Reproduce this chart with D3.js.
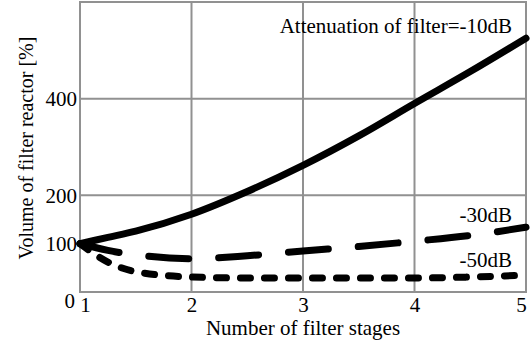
<!DOCTYPE html>
<html>
<head>
<meta charset="utf-8">
<script src="https://cdn.jsdelivr.net/npm/d3@7"></script>
<style>
  body { margin: 0; background: #fff; }
  svg { display: block; }
</style>
</head>
<body>
<div id="chart"></div>
<script>
// Data
const stages = [1, 1.25, 1.5, 2, 2.5, 3, 3.5, 4, 4.5, 5];
const att10 = [100, 113, 126, 161, 208, 262, 323, 390, 456, 525];
const att30 = [100, 86, 77, 69, 75, 85, 94, 105, 117, 134];
const att50 = [100, 62, 42, 31, 29, 29, 29, 29, 31, 35];
const xTicks = [1, 2, 3, 4, 5];
const yTicks = [0, 100, 200, 400];
const yGrid = [200, 400];

const margin = { top: 2, right: 6, bottom: 55, left: 80 },
      width = 532 - margin.left - margin.right,
      height = 347 - margin.top - margin.bottom;
const fontFam = "'Liberation Serif', 'Times New Roman', serif";

const svg = d3.select("#chart")
  .append("svg")
    .attr("width", 532)
    .attr("height", 347)
    .style("font-family", fontFam)
  .append("g")
    .attr("transform", "translate(" + margin.left + "," + margin.top + ")");

const x = d3.scaleLinear().domain([1, 5]).range([0, width]);
const y = d3.scaleLinear().domain([0, 600]).range([height, 0]);

// Grid
svg.append("g")
  .selectAll("line")
  .data(xTicks)
  .enter().append("line")
    .attr("x1", d => x(d)).attr("x2", d => x(d))
    .attr("y1", 0).attr("y2", height)
    .attr("stroke", "#919191").attr("stroke-width", 2);
svg.append("g")
  .selectAll("line")
  .data(yGrid)
  .enter().append("line")
    .attr("x1", 0).attr("x2", width)
    .attr("y1", d => y(d)).attr("y2", d => y(d))
    .attr("stroke", "#919191").attr("stroke-width", 2);
svg.append("rect")
  .attr("x", 0).attr("y", 0)
  .attr("width", width).attr("height", height)
  .attr("fill", "none")
  .attr("stroke", "#919191").attr("stroke-width", 2);

// Axes (labels only)
const xAxis = svg.append("g")
  .attr("transform", "translate(0," + height + ")")
  .call(d3.axisBottom(x).tickValues(xTicks).tickFormat(d3.format("d")).tickSize(0).tickPadding(5));
xAxis.attr("font-size", 21).style("font-family", fontFam);
xAxis.select(".domain").remove();
xAxis.selectAll("text")
  .attr("fill", "#000")
  .attr("dx", d => d === 1 ? 5 : (d === 5 ? -5 : 0));

const yAxis = svg.append("g")
  .call(d3.axisLeft(y).tickValues(yTicks).tickFormat(d3.format("d")).tickSize(0).tickPadding(3));
yAxis.attr("font-size", 21).style("font-family", fontFam);
yAxis.select(".domain").remove();
yAxis.selectAll("text")
  .attr("fill", "#000")
  .attr("dx", d => d === 0 ? -2 : 0)
  .attr("dy", d => d === 0 ? "0.75em" : "0.32em");

// Axis titles
svg.append("text")
  .attr("x", x(3))
  .attr("y", height + 43)
  .attr("text-anchor", "middle")
  .attr("font-size", 21)
  .text("Number of filter stages");
svg.append("text")
  .attr("transform", "translate(" + (-47) + "," + 146 + ") rotate(-90)")
  .attr("text-anchor", "middle")
  .attr("font-size", 20)
  .text("Volume of filter reactor [%]");

// Lines
const line = vals => d3.line()
  .x((d, i) => x(stages[i]))
  .y(d => y(d))
  .curve(d3.curveMonotoneX)(vals);

svg.append("path")
  .attr("d", line(att10))
  .attr("fill", "none").attr("stroke", "#000")
  .attr("stroke-width", 7).attr("stroke-linecap", "round");
svg.append("path")
  .attr("d", line(att30))
  .attr("fill", "none").attr("stroke", "#000")
  .attr("stroke-width", 7).attr("stroke-linecap", "round")
  .attr("stroke-dasharray", "40,30");
svg.append("path")
  .attr("d", line(att50))
  .attr("fill", "none").attr("stroke", "#000")
  .attr("stroke-width", 7).attr("stroke-linecap", "round")
  .attr("stroke-dasharray", "10,14");

// Series labels
svg.append("text")
  .attr("x", width - 14).attr("y", 31)
  .attr("text-anchor", "end")
  .attr("font-size", 21)
  .text("Attenuation of filter=-10dB");
svg.append("text")
  .attr("x", width - 14).attr("y", 220)
  .attr("text-anchor", "end")
  .attr("font-size", 21)
  .text("-30dB");
svg.append("text")
  .attr("x", width - 14).attr("y", 265)
  .attr("text-anchor", "end")
  .attr("font-size", 21)
  .text("-50dB");
</script>
</body>
</html>
